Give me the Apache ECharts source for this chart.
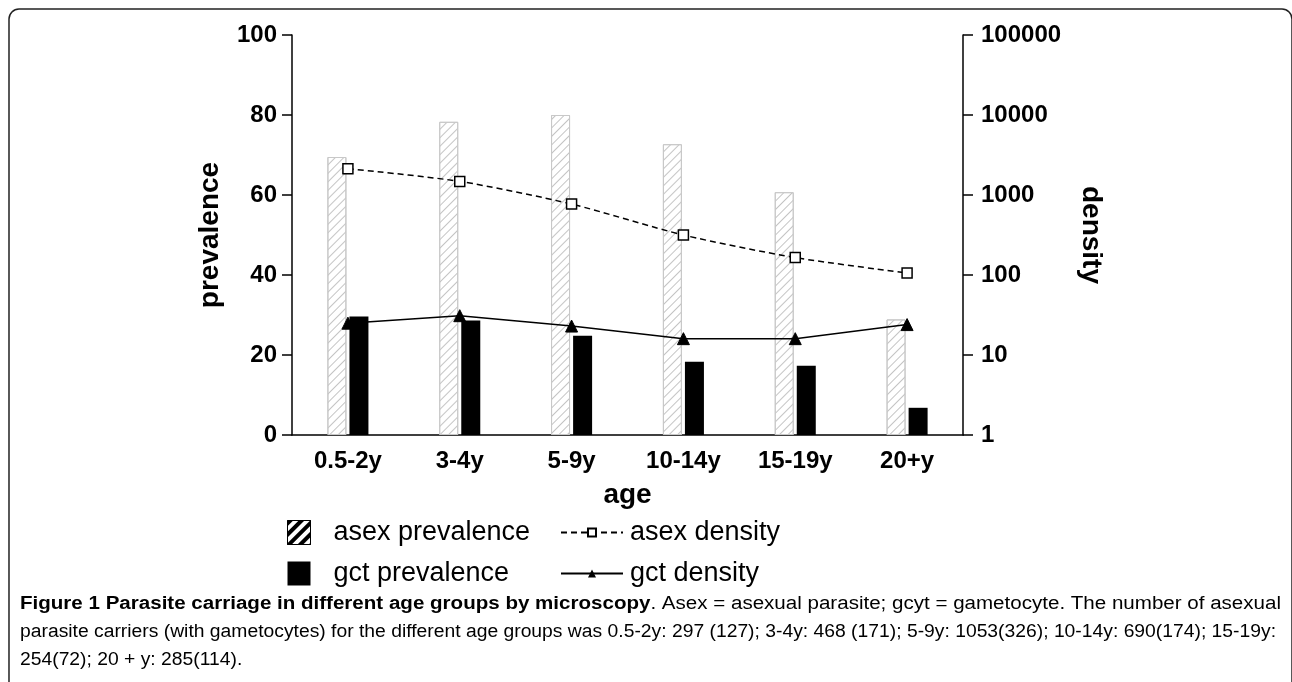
<!DOCTYPE html>
<html>
<head>
<meta charset="utf-8">
<script src="https://cdn.jsdelivr.net/npm/echarts@6/dist/echarts.min.js"></script>
<style>
html,body{margin:0;padding:0;background:#fff;}
#chart{width:1292px;height:682px;}
</style>
</head>
<body>
<div id="chart"></div>
<script>
// ---- data ----
var categories = ['0.5-2y', '3-4y', '5-9y', '10-14y', '15-19y', '20+y'];
var asexPrevalence = [69.5, 78.3, 80.0, 72.7, 60.7, 28.9];
var gctPrevalence = [29.6, 28.6, 24.8, 18.3, 17.3, 6.8];
var asexDensity = [2130, 1480, 770, 316, 165, 106];
var gctDensity = [25, 31, 23, 16, 16, 24];
var prevalenceTicks = [0, 20, 40, 60, 80, 100];
var densityTicks = [1, 10, 100, 1000, 10000, 100000];
var captionBold = 'Figure 1 Parasite carriage in different age groups by microscopy';
var captionLines = [
  '. Asex = asexual parasite; gcyt = gametocyte. The number of asexual',
  'parasite carriers (with gametocytes) for the different age groups was 0.5-2y: 297 (127); 3-4y: 468 (171); 5-9y: 1053(326); 10-14y: 690(174); 15-19y:',
  '254(72); 20 + y: 285(114).'
];

var FONT = '"Liberation Sans", Arial, Helvetica, sans-serif';
var CAP_SIZE = 18;

// measure caption lines so that the justified lines of the reference can be matched
var mctx = document.createElement('canvas').getContext('2d');
function textW(t, bold) {
  mctx.font = (bold ? 'bold ' : '') + CAP_SIZE + 'px ' + FONT;
  return mctx.measureText(t).width;
}
var w1 = textW(captionBold, true) + textW(captionLines[0], false);
var w2 = textW(captionLines[1], false);
var sx1 = 1261 / w1;
var sx2 = 1256 / w2;

var chart = echarts.init(document.getElementById('chart'), null, {renderer: 'canvas'});

var hatchDecal = {
  symbol: 'rect', symbolSize: 1,
  dashArrayX: [1, 0], dashArrayY: [1, 5],
  rotation: -Math.PI / 4,
  color: '#c4c4c4'
};

var option = {
  backgroundColor: '#fff',
  animation: false,
  grid: {left: 292, right: 329, top: 35, bottom: 247, containLabel: false},
  legend: [
    {
      orient: 'vertical', left: 287, top: 519, padding: 0,
      itemWidth: 23, itemHeight: 24, itemGap: 14, icon: 'rect',
      textStyle: {fontFamily: FONT, fontSize: 27, color: '#000', padding: [0, 0, 0, 18]},
      data: [
        {name: 'asex prevalence', icon: 'rect', itemStyle: {color: '#fff', borderColor: '#000', borderWidth: 1,
          decal: {symbol: 'rect', symbolSize: 1, dashArrayX: [1, 0], dashArrayY: [4, 4], rotation: -Math.PI / 4, color: '#000'}}},
        {name: 'gct prevalence', icon: 'rect'}
      ]
    },
    {
      orient: 'vertical', left: 560, top: 519, padding: 0,
      itemWidth: 62, itemHeight: 10, itemGap: 14,
      textStyle: {fontFamily: FONT, fontSize: 27, color: '#000', padding: [0, 0, 0, 2]},
      data: ['asex density', 'gct density']
    }
  ],
  xAxis: {
    type: 'category', data: categories, boundaryGap: true,
    axisLine: {lineStyle: {color: '#000', width: 1.5}},
    axisTick: {show: false},
    axisLabel: {fontFamily: FONT, fontWeight: 'bold', fontSize: 24, color: '#000', margin: 14},
    name: 'age', nameLocation: 'middle', nameGap: 46,
    nameTextStyle: {fontFamily: FONT, fontWeight: 'bold', fontSize: 28, color: '#000'}
  },
  yAxis: [
    {
      type: 'value', min: prevalenceTicks[0], max: prevalenceTicks[prevalenceTicks.length - 1], interval: 20,
      position: 'left',
      axisLine: {show: true, lineStyle: {color: '#000', width: 1.5}},
      axisTick: {show: true, inside: false, length: 10, lineStyle: {color: '#000', width: 1.5}},
      splitLine: {show: false},
      axisLabel: {fontFamily: FONT, fontWeight: 'bold', fontSize: 24, color: '#000', margin: 15},
      name: 'prevalence', nameLocation: 'middle', nameGap: 68,
      nameTextStyle: {fontFamily: FONT, fontWeight: 'bold', fontSize: 28, color: '#000'}
    },
    {
      type: 'log', logBase: 10, min: densityTicks[0], max: densityTicks[densityTicks.length - 1],
      position: 'right',
      axisLine: {show: true, lineStyle: {color: '#000', width: 1.5}},
      axisTick: {show: true, inside: false, length: 10, lineStyle: {color: '#000', width: 1.5}},
      splitLine: {show: false},
      axisLabel: {fontFamily: FONT, fontWeight: 'bold', fontSize: 24, color: '#000', margin: 18,
        formatter: function (v) { return String(Math.round(v)); }},
      name: 'density', nameLocation: 'middle', nameGap: 114, nameRotate: -90,
      nameTextStyle: {fontFamily: FONT, fontWeight: 'bold', fontSize: 28, color: '#000'}
    }
  ],
  series: [
    {
      name: 'asex prevalence', type: 'bar', yAxisIndex: 0, data: asexPrevalence,
      barWidth: 19, barGap: '16%',
      itemStyle: {color: '#fff', borderColor: '#c8c8c8', borderWidth: 1, decal: hatchDecal}
    },
    {
      name: 'gct prevalence', type: 'bar', yAxisIndex: 0, data: gctPrevalence,
      barWidth: 19,
      itemStyle: {color: '#000', borderColor: '#000', borderWidth: 0}
    },
    {
      name: 'asex density', type: 'line', yAxisIndex: 1, data: asexDensity,
      smooth: 0.25, symbol: 'rect', symbolSize: 10, z: 5,
      lineStyle: {color: '#000', width: 1.5, type: [6, 4]},
      itemStyle: {color: '#fff', borderColor: '#000', borderWidth: 1.5}
    },
    {
      name: 'gct density', type: 'line', yAxisIndex: 1, data: gctDensity,
      symbol: 'triangle', symbolSize: 12, z: 5,
      lineStyle: {color: '#000', width: 1.5},
      itemStyle: {color: '#000', borderColor: '#000'}
    }
  ],
  graphic: [
    {
      type: 'rect', z: -1, silent: true,
      shape: {x: 9, y: 9, width: 1283, height: 720, r: 10},
      style: {fill: 'none', stroke: '#222', lineWidth: 1.5}
    },
    {
      type: 'text', x: 20, y: 595, scaleX: sx1, silent: true,
      style: {
        text: '{b|' + captionBold + '}{n|' + captionLines[0] + '}',
        rich: {
          b: {fontFamily: FONT, fontWeight: 'bold', fontSize: CAP_SIZE, fill: '#000'},
          n: {fontFamily: FONT, fontSize: CAP_SIZE, fill: '#000'}
        }
      }
    },
    {
      type: 'text', x: 20, y: 623, scaleX: sx2, silent: true,
      style: {text: captionLines[1], fontFamily: FONT, fontSize: CAP_SIZE, fill: '#000'}
    },
    {
      type: 'text', x: 20, y: 651, scaleX: sx2, silent: true,
      style: {text: captionLines[2], fontFamily: FONT, fontSize: CAP_SIZE, fill: '#000'}
    }
  ]
};
chart.setOption(option);
</script>
</body>
</html>
